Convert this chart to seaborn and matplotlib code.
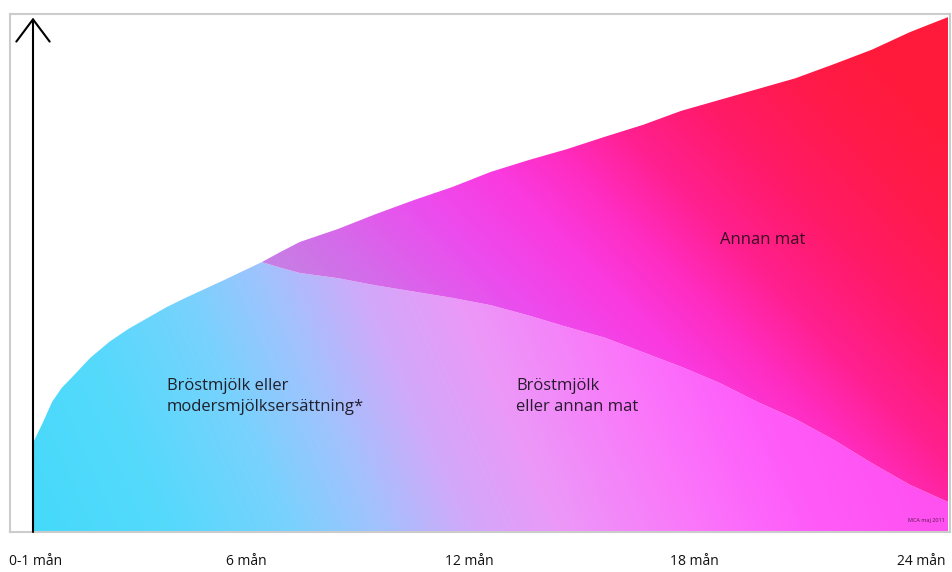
import numpy as np
import matplotlib
matplotlib.use("Agg")
import matplotlib.pyplot as plt
from matplotlib.colors import LinearSegmentedColormap
import seaborn as sns

# Ålder i månader och ytornas övre kanter (andel av höjden, 0-100)
months = [0, 0.25, 0.5, 0.75, 1, 1.5, 2, 2.5, 3, 3.5, 4, 5, 6, 6.5, 7, 8, 9,
          10, 11, 12, 13, 14, 15, 16, 17, 18, 19, 20, 21, 22, 23, 24]
total = [17.2, 21.0, 25.1, 27.8, 29.7, 33.6, 36.7, 39.2, 41.3, 43.4, 45.2,
         48.6, 52.1, 54.1, 56.0, 58.5, 61.4, 64.1, 66.6, 69.5, 71.8, 73.9,
         76.3, 78.6, 81.3, 83.4, 85.5, 87.6, 90.3, 93.1, 96.5, 99.4]
milk = [17.2, 21.0, 25.1, 27.8, 29.7, 33.6, 36.7, 39.2, 41.3, 43.4, 45.2,
        48.6, 52.1, 51.0, 50.0, 49.0, 47.6, 46.4, 45.2, 43.8, 41.8, 39.6,
        37.5, 34.7, 31.9, 28.8, 25.1, 21.8, 17.8, 13.3, 9.1, 5.8]

tick_pos = [0.08, 5.6, 11.45, 17.35, 23.3]
tick_labels = ["0-1 mån", "6 mån", "12 mån", "18 mån", "24 mån"]

sns.set_theme(style="white")
plt.rcParams["font.family"] = ["Open Sans", "DejaVu Sans"]

milk_cmap = LinearSegmentedColormap.from_list("milk", [
    (0.0, "#45dafa"), (0.15, "#55d9fc"), (0.28, "#78d2fd"), (0.38, "#a2c2fe"),
    (0.48, "#d2a8fa"), (0.58, "#ec98f8"), (0.72, "#fa78fa"), (0.85, "#ff5cfa"),
    (1.0, "#ff50f0")])
food_cmap = LinearSegmentedColormap.from_list("food", [
    (0.0, "#c088e2"), (0.15, "#d46cea"), (0.3, "#ec4cee"), (0.42, "#fa3ae0"),
    (0.52, "#ff2cc0"), (0.62, "#ff2090"), (0.75, "#ff1a68"), (0.88, "#ff1a4c"),
    (1.0, "#ff1a3c")])

fig = plt.figure(figsize=(9.53, 5.72), dpi=100)
ax = fig.add_axes([10 / 953, 40 / 572, 940 / 953, 518 / 572])
x0, x1 = (10 - 33) * 24 / 915, (950 - 33) * 24 / 915
ax.set_xlim(x0, x1)
ax.set_ylim(0, 100)

# gradienter, klippta mot ytorna
gx, gy = np.meshgrid(np.linspace(x0, x1, 900), np.linspace(0, 100, 500))
t_milk = np.clip(gx / 24 + 0.0025 * gy, 0, 1)
t_food = np.clip(0.045 * (gx - 6) + 0.0059 * (gy - 45), 0, 1)

milk_poly = ax.fill_between(months, 0, milk, facecolor="none", edgecolor="none")
food_poly = ax.fill_between(months, milk, total, facecolor="none", edgecolor="none")

for t, cmap, poly in [(t_milk, milk_cmap, milk_poly), (t_food, food_cmap, food_poly)]:
    im = ax.imshow(cmap(t), extent=[x0, x1, 0, 100], origin="lower",
                   aspect="auto", interpolation="bilinear", zorder=1)
    im.set_clip_path(poly.get_paths()[0], transform=ax.transData)

# pil längs y-axeln
ax.annotate("", xy=(0, 99.3), xytext=(0, 0),
            arrowprops=dict(arrowstyle="->,head_length=1.0,head_width=0.75",
                            mutation_scale=16, lw=1.5, color="black",
                            shrinkA=0, shrinkB=0), zorder=3)

ax.text(3.51, 26.1, "Bröstmjölk eller\nmodersmjölksersättning*", fontsize=12,
        color="#20202c", va="center", ha="left", linespacing=1.4, zorder=4)
ax.text(12.68, 26.1, "Bröstmjölk\neller annan mat", fontsize=12,
        color="#2a1a30", va="center", ha="left", linespacing=1.4, zorder=4)
ax.text(18.03, 56.4, "Annan mat", fontsize=12, color="#3a0c24",
        va="center", ha="left", zorder=4)
ax.text(23.92, 2.3, "MCA maj 2011", fontsize=4, color="#5a1a50",
        va="center", ha="right", zorder=4)

ax.set_yticks([])
ax.set_xticks(tick_pos)
ax.set_xticklabels(tick_labels, fontsize=10, color="#111111")
ax.tick_params(axis="x", length=0, pad=16)
for s in ax.spines.values():
    s.set_color("#cccccc")
    s.set_linewidth(1.5)

fig.savefig("out.png", dpi=100)
